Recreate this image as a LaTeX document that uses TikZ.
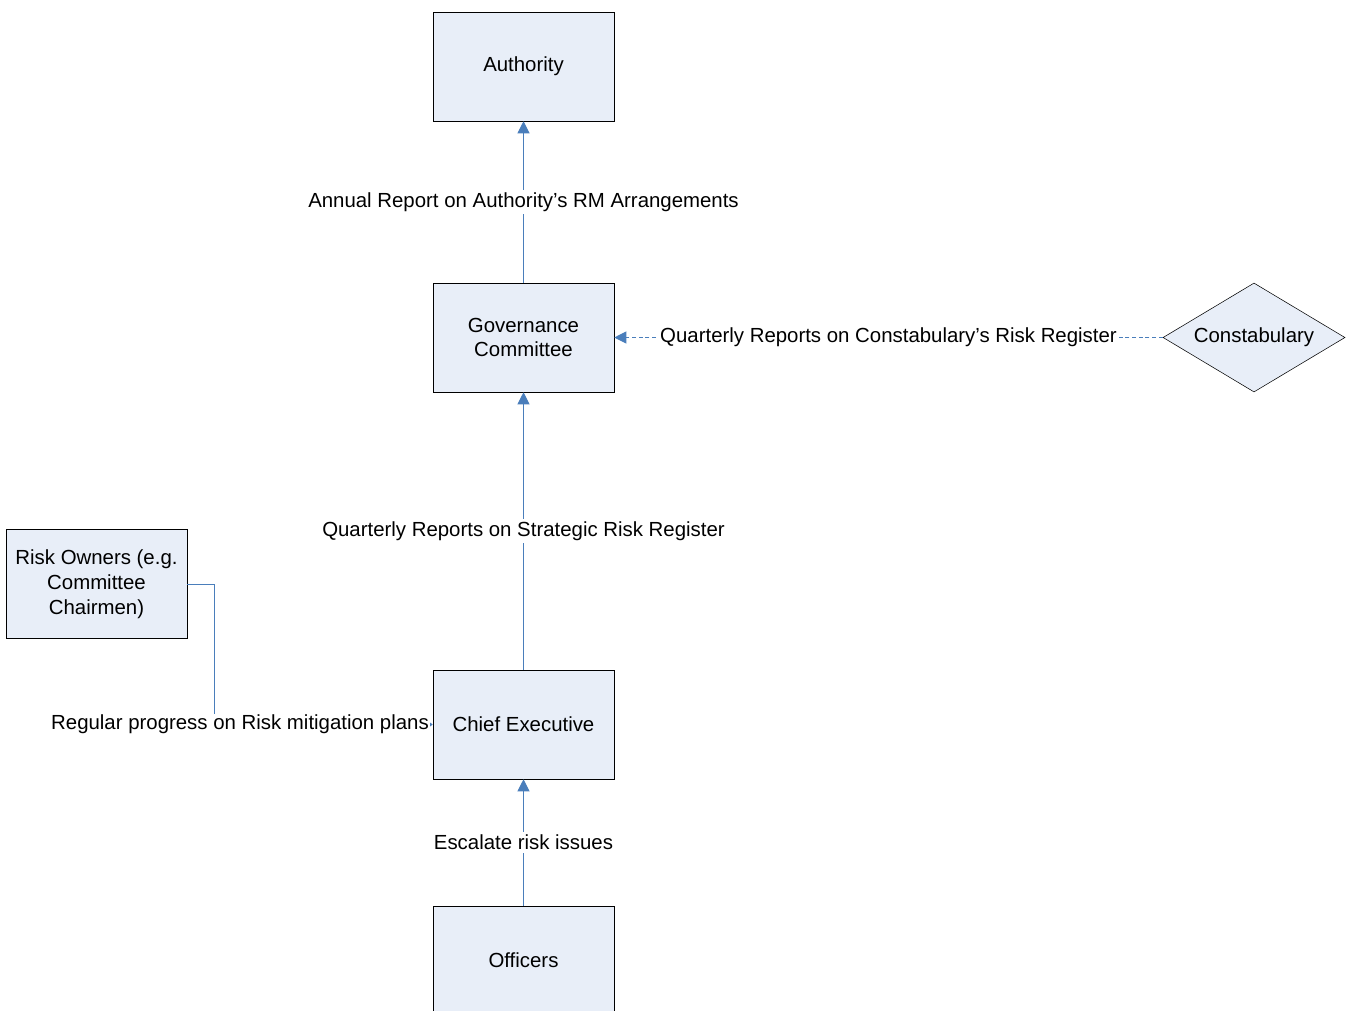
\documentclass[tikz,border=0pt]{standalone}
\usepackage{fontspec}
\setmainfont{Liberation Sans}
\usetikzlibrary{shapes.geometric,arrows.meta}
\definecolor{boxfill}{HTML}{E8EEF8}
\definecolor{linkblue}{HTML}{4A7EBB}
\begin{document}
\begin{tikzpicture}[x=0.75pt, y=-0.75pt,
  font=\fontsize{15.3}{18.6}\selectfont,
  unitbox/.style={rectangle, draw, fill=boxfill, align=center, inner sep=0pt, minimum width=135.75pt, minimum height=81.75pt},
  outsidebox/.style={diamond, aspect=1.67, draw, fill=boxfill, align=center, inner sep=0pt, minimum width=136.5pt, minimum height=81.75pt},
  link/.style={draw=linkblue, line width=0.75pt, -{Triangle[width=9pt,length=9pt,fill=linkblue]}},
  smalllink/.style={draw=linkblue, line width=0.75pt, -{Triangle[width=3.5pt,length=2.5pt,fill=linkblue]}},
  linklabel/.style={fill=white, inner sep=2pt}]
\useasboundingbox (0,0) rectangle (1348,1010);
\node[unitbox] (auth) at (523.5,66.5) {Authority};
\node[unitbox] (gov) at (523.5,337.5) {Governance\\Committee};
\node[unitbox] (chief) at (523.5,724.5) {Chief Executive};
\node[unitbox] (off) at (523.5,960.5) {Officers};
\node[unitbox] (owners) at (96.5,584) {Risk Owners (e.g.\\Committee\\Chairmen)};
\node[outsidebox] (const) at (1254,337.5) {Constabulary};
\coordinate (bend) at (214,584);

\draw[link] (gov) -- node[linklabel] {Annual Report on Authority’s RM Arrangements} (auth);
\draw[link] (chief) -- node[linklabel] {Quarterly Reports on Strategic Risk Register} (gov);
\draw[link] (off) -- node[linklabel] {Escalate risk issues} (chief);
\draw[link, dash pattern=on 3pt off 2pt] (const) -- node[linklabel] {Quarterly Reports on Constabulary’s Risk Register} (gov);
\draw[smalllink] (owners.east) -- (bend) |- (chief.west);
\node[linklabel, inner sep=1pt] (progress) at (240,724.5) {Regular progress on Risk mitigation plans};
\end{tikzpicture}
\end{document}
